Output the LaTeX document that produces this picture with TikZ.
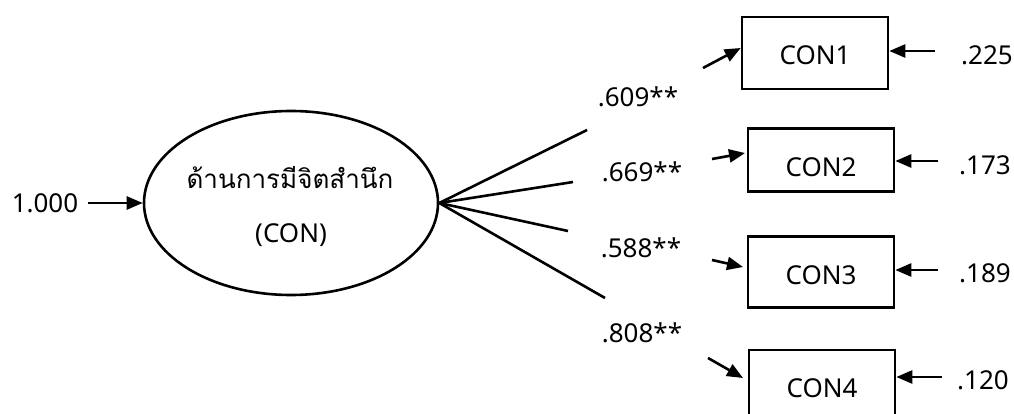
\documentclass[tikz,border=0pt]{standalone}
\usepackage{fontspec}
\setmainfont{Noto Sans}
\newfontfamily\thaifont[Script=Thai]{Loma}
\usetikzlibrary{shapes.geometric,arrows.meta}
\tikzset{
  x=1pt,y=-1pt,
  lbl/.style={font=\fontsize{26}{28}\selectfont, inner sep=0pt},
  obs/.style={draw, line width=2.6pt, rectangle, minimum width=146pt, inner sep=0pt},
  lat/.style={draw, line width=2.6pt, ellipse, minimum width=294pt, minimum height=184pt, inner sep=0pt},
  ln/.style={line width=2.6pt},
  arr/.style={line width=2.6pt, -{Triangle[length=16pt,width=13pt]}},
}
\begin{document}
\begin{tikzpicture}
\useasboundingbox (0,0) rectangle (1014,414);
% latent
\node[lat] (con) at (291,203) {};
\node[lbl] (conth) at (290,178) {\thaifont ด้านการมีจิตสำนึก};
\node[lbl] (conen) at (291,235) {(CON)};
\node[lbl] (err0) at (45,203) {1.000};
\draw[arr] (err0.east) ++(10,0) coordinate (e0s) -- (con.west);
% boxes
\node[obs, minimum height=72pt] (b1) at (815,53) {};
\node[obs, minimum height=63pt] (b2) at (821,160) {};
\node[obs, minimum height=71pt] (b3) at (821,272) {};
\node[obs, minimum height=72pt] (b4) at (822,386) {};
\node[lbl] (t1) at (815,55) {CON1};
\node[lbl] (t2) at (821,167) {CON2};
\node[lbl] (t3) at (821,275) {CON3};
\node[lbl] (t4) at (822,388) {CON4};
% loadings
\node[lbl] (l1) at (638,97) {.609**};
\node[lbl] (l2) at (642,172) {.669**};
\node[lbl] (l3) at (641,248) {.588**};
\node[lbl] (l4) at (642,333) {.808**};
\coordinate (p1) at (587,130);
\coordinate (p2) at (573,182);
\coordinate (p3) at (568,231);
\coordinate (p4) at (605,298);
\draw[ln] (con.east) -- (p1);
\draw[ln] (con.east) -- (p2);
\draw[ln] (con.east) -- (p3);
\draw[ln] (con.east) -- (p4);
\coordinate (q1) at (703,68);
\coordinate (q2) at (712,159);
\coordinate (q3) at (712,260);
\coordinate (q4) at (708,358);
\draw[arr] (q1) -- (b1.west |- 0,48);
\draw[arr] (q2) -- (745,153);
\draw[arr] (q3) -- (743,267);
\draw[arr] (q4) -- (743,378);
% errors
\node[lbl] (r1) at (987,55) {.225};
\node[lbl] (r2) at (985,165) {.173};
\node[lbl] (r3) at (985,273) {.189};
\node[lbl] (r4) at (983,380) {.120};
\draw[arr] (935,51) -- (b1.east |- 0,51);
\draw[arr] (938,161) -- (b2.east |- 0,161);
\draw[arr] (938,270) -- (b3.east |- 0,270);
\draw[arr] (942,377) -- (b4.east |- 0,377);
\end{tikzpicture}
\end{document}
